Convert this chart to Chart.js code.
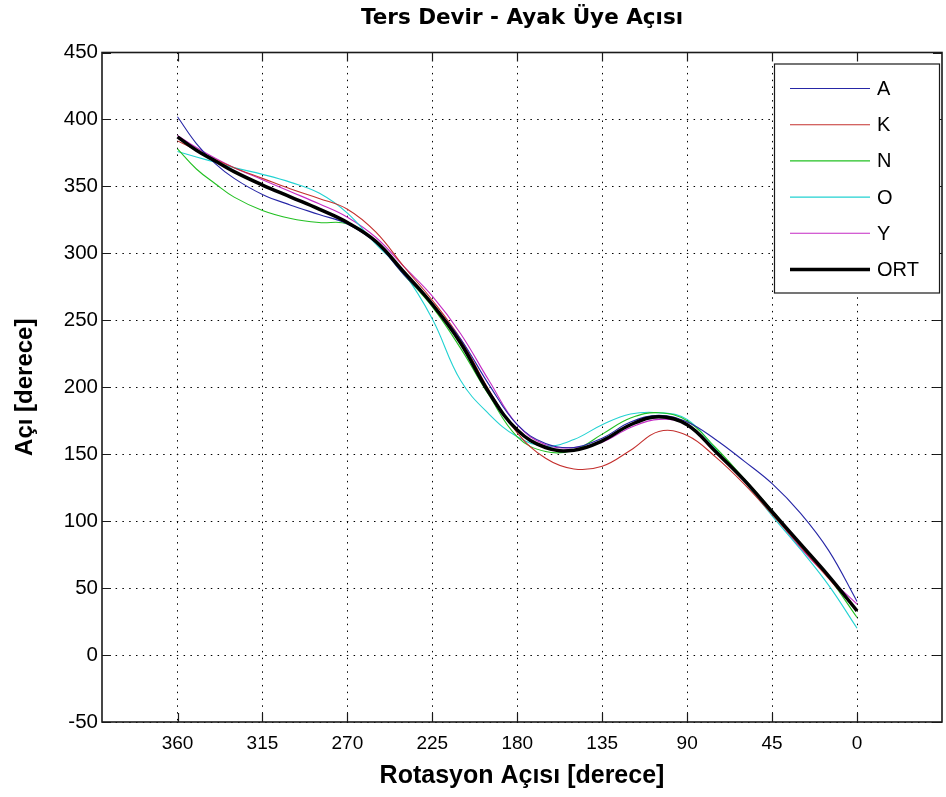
<!DOCTYPE html>
<html>
<head>
<meta charset="utf-8">
<script src="https://cdn.jsdelivr.net/npm/chart.js@4/dist/chart.umd.min.js"></script>
<style>
  html, body { margin: 0; padding: 0; background: #ffffff; }
  #wrap { width: 946px; height: 797px; position: relative; }
</style>
</head>
<body>
<div id="wrap"><canvas id="chart"></canvas></div>
<script>
// Rotation angle (degrees) at which each curve is sampled
const rotation = [360, 350, 340, 330, 315, 300, 285, 270, 255, 240, 225, 210, 195,
                  180, 165, 150, 135, 120, 105, 90, 75, 60, 45, 30, 15, 0];

// Foot segment angle per subject (degrees)
const angleA = [402, 382, 367, 356, 344, 336, 329, 322, 308, 284, 262, 236, 202,
                172, 158, 155, 162, 174, 179, 174, 161, 145, 128, 106, 78, 40];
const angleK = [384, 377, 370, 364, 356, 348, 341, 333, 316, 290, 265, 236, 198,
                166, 147, 139, 141, 153, 167, 164, 148, 128, 105, 81, 57, 33];
const angleN = [378, 363, 352, 342, 332, 326, 323, 322, 308, 284, 260, 229, 194,
                163, 152, 153, 165, 177, 181, 175, 155, 132, 108, 83, 58, 28];
const angleO = [376, 372, 368, 364, 359, 353, 345, 330, 307, 285, 251, 205, 180,
                163, 156, 161, 172, 180, 181, 176, 154, 130, 104, 79, 52, 20];
const angleY = [388, 379, 371, 364, 355, 346, 337, 327, 312, 290, 268, 240, 205,
                172, 157, 155, 159, 170, 176, 172, 153, 130, 106, 80, 58, 38];
// Mean curve
const angleORT = [387, 377, 369, 361, 351, 342, 333, 323, 309, 286, 262, 233, 196,
                  168, 155, 153, 160, 172, 178, 172, 152, 131, 107, 83, 59, 33];

const seriesNames = ['A', 'K', 'N', 'O', 'Y', 'ORT'];
const xTickValues = [0, 45, 90, 135, 180, 225, 270, 315, 360];
const yTickValues = [-50, 0, 50, 100, 150, 200, 250, 300, 350, 400, 450];

const toPoints = (vals) => rotation.map((r, i) => ({ x: r, y: vals[i] }));

const styles = [
  { color: '#2626a6', width: 1.1 },
  { color: '#c4302e', width: 1.1 },
  { color: '#22c022', width: 1.1 },
  { color: '#22d2d2', width: 1.1 },
  { color: '#c42ac4', width: 1.1 },
  { color: '#000000', width: 3.5 }
];
const seriesValues = [angleA, angleK, angleN, angleO, angleY, angleORT];

const datasets = seriesValues.map((vals, i) => ({
  label: seriesNames[i],
  data: toPoints(vals),
  borderColor: styles[i].color,
  backgroundColor: styles[i].color,
  borderWidth: styles[i].width,
  pointRadius: 0,
  tension: 0.4,
  fill: false,
  order: i === 5 ? 0 : 1
}));

// Frame around the plot with inward tick marks on all four sides
const frameTicks = {
  id: 'frameTicks',
  afterDatasetsDraw(chart) {
    const { ctx, chartArea: a, scales } = chart;
    const len = 9;
    ctx.save();
    ctx.strokeStyle = '#1a1a1a';
    ctx.lineWidth = 1.2;
    ctx.beginPath();
    xTickValues.forEach(v => {
      const px = Math.round(scales.x.getPixelForValue(v)) + 0.5;
      ctx.moveTo(px, a.bottom); ctx.lineTo(px, a.bottom - len);
      ctx.moveTo(px, a.top); ctx.lineTo(px, a.top + len);
    });
    yTickValues.forEach(v => {
      const py = Math.round(scales.y.getPixelForValue(v)) + 0.5;
      ctx.moveTo(a.left, py); ctx.lineTo(a.left + len, py);
      ctx.moveTo(a.right, py); ctx.lineTo(a.right - len, py);
    });
    ctx.stroke();
    ctx.lineWidth = 1.6;
    ctx.strokeRect(a.left, a.top, a.right - a.left, a.bottom - a.top);
    ctx.restore();
  }
};

// Boxed legend in the upper right corner of the plot
const boxLegend = {
  id: 'boxLegend',
  afterDraw(chart) {
    const { ctx, chartArea: a } = chart;
    const boxW = 165, boxH = 229;
    const bx = a.right - boxW - 3, by = a.top + 11;
    ctx.save();
    ctx.fillStyle = '#ffffff';
    ctx.fillRect(bx, by, boxW, boxH);
    ctx.strokeStyle = '#1a1a1a';
    ctx.lineWidth = 1.2;
    ctx.strokeRect(bx + 0.5, by + 0.5, boxW, boxH);
    ctx.font = '20px "Liberation Sans", Arial, sans-serif';
    ctx.textBaseline = 'middle';
    ctx.fillStyle = '#000000';
    const step = 36.2;
    chart.data.datasets.forEach((ds, i) => {
      const y = by + 25 + i * step;
      ctx.strokeStyle = ds.borderColor;
      ctx.lineWidth = ds.borderWidth;
      ctx.beginPath();
      ctx.moveTo(bx + 16, y);
      ctx.lineTo(bx + 96, y);
      ctx.stroke();
      ctx.fillText(ds.label, bx + 103, y + 1);
    });
    ctx.restore();
  }
};

const gridDots = {
  color: '#000000',
  lineWidth: 1,
  drawTicks: false
};

new Chart(document.getElementById('chart'), {
  type: 'line',
  data: { datasets },
  plugins: [frameTicks, boxLegend],
  options: {
    responsive: true,
    maintainAspectRatio: false,
    animation: false,
    devicePixelRatio: 1,
    layout: { padding: { left: 0, right: 4, top: 0, bottom: 6 } },
    plugins: {
      legend: { display: false },
      tooltip: { enabled: false },
      title: {
        display: true,
        fullSize: false,
        text: 'Ters Devir - Ayak Üye Açısı',
        color: '#000000',
        font: { family: '"DejaVu Sans", Verdana, sans-serif', size: 21.5, weight: 'bold', lineHeight: 1.2 },
        padding: { top: 6, bottom: 20.7 }
      }
    },
    scales: {
      x: {
        type: 'linear',
        reverse: true,
        min: -45,
        max: 400,
        afterBuildTicks: (s) => { s.ticks = xTickValues.map(v => ({ value: v })); },
        afterFit: (s) => { s.height = 69; },
        grid: gridDots,
        border: { display: false, dash: [1.5, 5.3] },
        ticks: {
          color: '#000000',
          padding: 10,
          maxRotation: 0,
          font: { family: '"Liberation Sans", Arial, sans-serif', size: 19 },
          callback: (v) => String(v)
        },
        title: {
          display: true,
          text: 'Rotasyon Açısı [derece]',
          color: '#000000',
          font: { family: '"Liberation Sans", Arial, sans-serif', size: 25, weight: 'bold', lineHeight: 1.2 },
          padding: { top: 0, bottom: 0 }
        }
      },
      y: {
        type: 'linear',
        min: -50,
        max: 450,
        afterBuildTicks: (s) => { s.ticks = yTickValues.map(v => ({ value: v })); },
        afterFit: (s) => { s.width = 102; },
        grid: gridDots,
        border: { display: false, dash: [1.5, 5.3] },
        ticks: {
          color: '#000000',
          padding: 4,
          font: { family: '"Liberation Sans", Arial, sans-serif', size: 20.5 },
          callback: (v) => String(v)
        },
        title: {
          display: true,
          text: 'Açı [derece]',
          color: '#000000',
          font: { family: '"Liberation Sans", Arial, sans-serif', size: 24, weight: 'bold', lineHeight: 1.2 },
          padding: { top: 11, bottom: 0 }
        }
      }
    }
  }
});
</script>
</body>
</html>
